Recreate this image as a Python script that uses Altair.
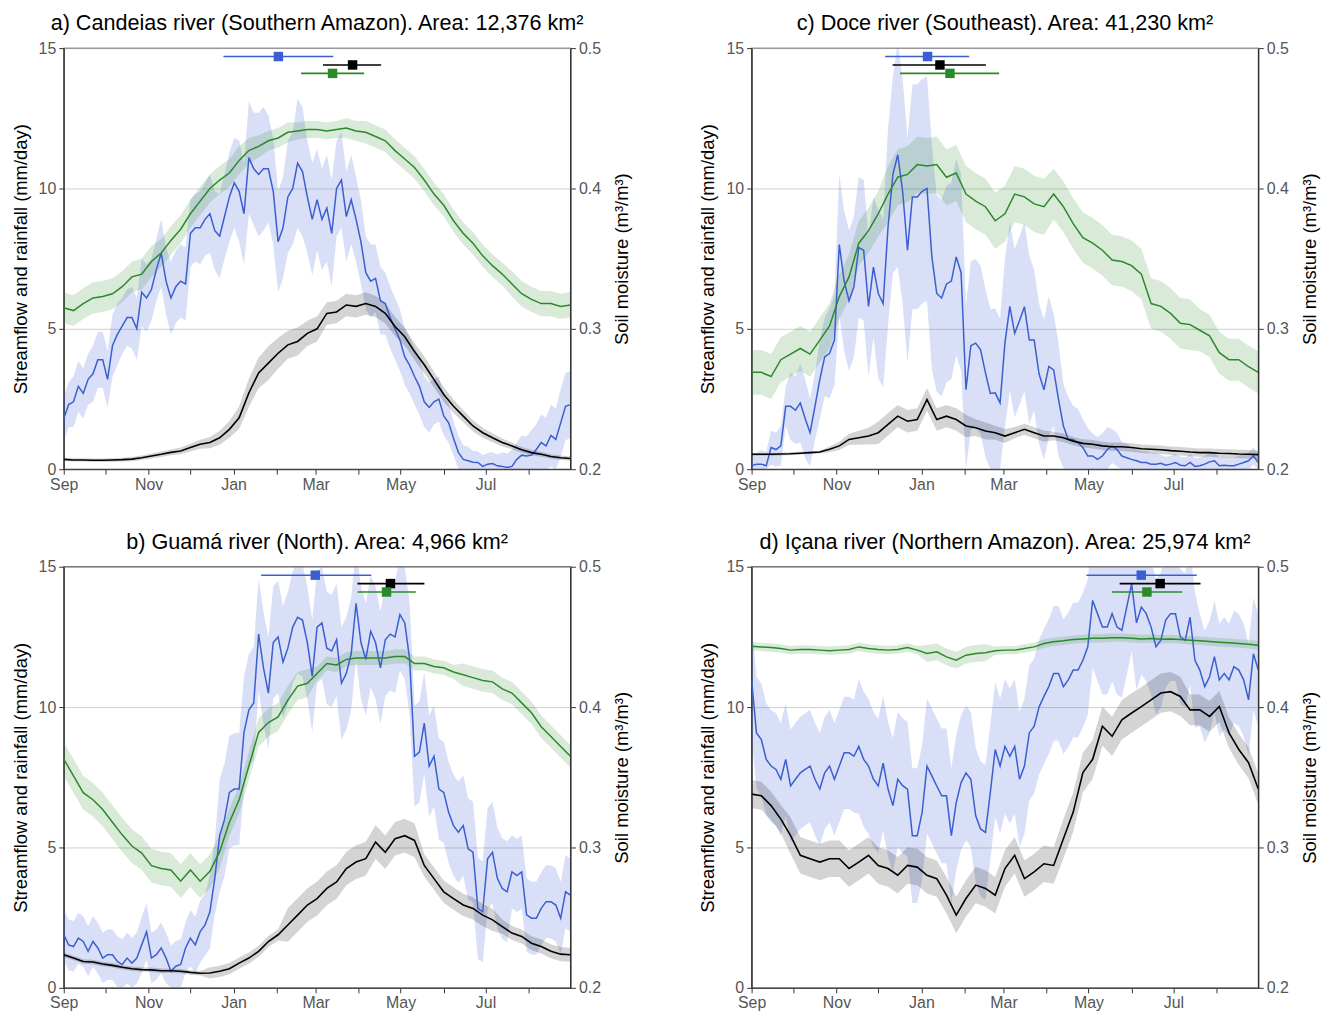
import altair as alt
import pandas as pd
import numpy as np

# ---------------- data (day 0 = 1 Sep) ----------------
START = pd.Timestamp("2001-09-01")
DAYS = list(range(0, 365, 7))            # 53 weekly points
DAYS_MID = [d + 3.5 for d in DAYS[:-1]]  # 52 mid-week points (rainfall only)

SERIES = ["rain", "flow", "soil"]
ERR_Y = [14.7, 14.4, 14.1]

# a) Candeias
A_RAIN = [1.8, 2.4, 2.7, 3.4, 3.9, 4.4, 5.1, 5.4, 6.3, 6.4,
          7.7, 6.1, 6.7, 8.4, 8.6, 9.1, 8.3, 9.7, 9.9, 11.1,
          10.5, 10.7, 8.1, 9.7, 10.9, 9.7, 9.6, 9.3, 10.0, 9.0,
          8.9, 7.0, 6.8, 5.9, 5.0, 4.0, 3.3, 2.4, 2.4, 1.9,
          1.1, 0.35, 0.25, 0.1, 0.2, 0.1, 0.1, 0.5, 0.5, 0.95,
          1.2, 1.65, 2.3]
A_RAIN_MID = [2.3, 2.95, 3.2, 3.9, 3.2, 4.8, 5.4, 5.0, 6.1, 7.1,
              6.7, 6.5, 6.6, 8.6, 8.9, 8.5, 9.0, 10.2, 9.1, 10.7,
              10.7, 9.9, 8.6, 10.0, 10.6, 8.9, 8.9, 8.4, 10.3, 9.6,
              8.1, 6.7, 6.0, 5.4, 4.6, 3.7, 2.95, 2.2, 2.5, 1.65,
              0.6, 0.3, 0.24, 0.18, 0.12, 0.06, 0.35, 0.47, 0.7, 0.83,
              1.06, 2.24]
A_RAIN_HW = [0.8, 0.9, 0.9, 1.0, 1.0, 1.1, 1.0, 1.1, 1.2, 1.1,
             1.2, 1.3, 1.3, 1.2, 1.3, 1.4, 1.5, 1.6, 1.8, 2.0,
             2.2, 1.9, 1.8, 2.0, 2.3, 2.0, 1.8, 1.9, 1.7, 1.6,
             1.5, 1.3, 1.2, 1.1, 1.1, 1.0, 1.0, 0.9, 0.8, 0.7,
             0.6, 0.5, 0.4, 0.4, 0.4, 0.5, 0.6, 0.7, 0.9, 1.0,
             1.1, 1.2, 1.2]
A_FLOW = [0.35, 0.33, 0.33, 0.32, 0.32, 0.33, 0.34, 0.36, 0.41, 0.47,
          0.53, 0.6, 0.65, 0.77, 0.89, 0.95, 1.12, 1.42, 1.83, 2.72,
          3.43, 3.78, 4.13, 4.43, 4.55, 4.84, 5.0, 5.55, 5.6, 5.85,
          5.8, 5.9, 5.8, 5.55, 5.08, 4.72, 4.19, 3.72, 3.19, 2.66,
          2.24, 1.89, 1.54, 1.3, 1.12, 0.95, 0.83, 0.69, 0.59, 0.53,
          0.45, 0.41, 0.38]
A_FLOW_HW = [0.06, 0.06, 0.06, 0.06, 0.06, 0.07, 0.07, 0.08, 0.08, 0.09,
             0.1, 0.1, 0.12, 0.14, 0.16, 0.2, 0.25, 0.3, 0.4, 0.5,
             0.55, 0.6, 0.55, 0.5, 0.5, 0.45, 0.45, 0.4, 0.4, 0.4,
             0.4, 0.4, 0.38, 0.36, 0.34, 0.32, 0.3, 0.3, 0.28, 0.26,
             0.24, 0.22, 0.2, 0.18, 0.16, 0.14, 0.12, 0.1, 0.1, 0.09,
             0.08, 0.08, 0.08]
A_SOIL = [0.315, 0.313, 0.318, 0.322, 0.323, 0.325, 0.330, 0.337, 0.339, 0.348,
          0.354, 0.363, 0.371, 0.382, 0.391, 0.400, 0.406, 0.411, 0.420, 0.427,
          0.430, 0.434, 0.436, 0.440, 0.441, 0.442, 0.442, 0.441, 0.442, 0.443,
          0.441, 0.440, 0.437, 0.434, 0.427, 0.421, 0.415, 0.406, 0.396, 0.388,
          0.377, 0.368, 0.361, 0.352, 0.345, 0.339, 0.332, 0.325, 0.321, 0.318,
          0.318, 0.316, 0.317]
A_SOIL_HW = [0.011, 0.011, 0.011, 0.011, 0.011, 0.011, 0.011, 0.011, 0.011, 0.011,
             0.010, 0.010, 0.010, 0.010, 0.010, 0.010, 0.010, 0.010, 0.010, 0.009,
             0.008, 0.007, 0.007, 0.007, 0.006, 0.006, 0.006, 0.006, 0.006, 0.007,
             0.007, 0.008, 0.008, 0.008, 0.008, 0.008, 0.008, 0.008, 0.008, 0.008,
             0.008, 0.008, 0.008, 0.008, 0.008, 0.008, 0.009, 0.009, 0.009, 0.009,
             0.009, 0.009, 0.009]
ERR_A = ([114.7, 186.2, 170.5], [154.2, 207.5, 193.1], [193.6, 228.0, 215.8])

# c) Doce
C_RAIN = [0.12, 0.18, 0.77, 0.83, 2.24, 2.36, 1.3, 3.19, 4.13, 8.0,
          6.0, 7.9, 5.8, 6.26, 8.62, 11.2, 7.8, 9.7, 10.0, 6.26,
          6.6, 7.56, 2.83, 4.49, 3.43, 2.72, 4.5, 4.84, 5.79, 4.6,
          2.83, 3.54, 1.54, 1.06, 0.77, 0.47, 0.47, 0.83, 0.47, 0.35,
          0.24, 0.18, 0.21, 0.18, 0.14, 0.24, 0.12, 0.26, 0.12, 0.12,
          0.18, 0.3, 0.24]
C_RAIN_MID = [0.18, 0.12, 0.7, 2.24, 2.1, 1.8, 2.24, 4.0, 4.6, 6.7,
              6.5, 7.8, 7.2, 5.9, 10.5, 9.9, 9.7, 9.9, 7.56, 6.1,
              6.7, 7.0, 4.4, 4.25, 2.7, 2.36, 5.8, 5.3, 4.6, 3.4,
              3.66, 2.48, 1.06, 0.94, 0.47, 0.35, 0.7, 0.7, 0.41, 0.3,
              0.24, 0.18, 0.14, 0.24, 0.12, 0.1, 0.18, 0.3, 0.14, 0.12,
              0.24, 0.47]
C_RAIN_HW = [0.4, 0.5, 0.6, 0.7, 1.2, 1.4, 1.2, 1.4, 1.6, 2.5,
             2.5, 2.5, 2.5, 3.0, 3.5, 4.0, 4.0, 4.0, 4.0, 3.5,
             3.5, 3.5, 3.0, 3.0, 3.0, 3.0, 3.0, 3.0, 3.0, 2.5,
             2.5, 2.0, 1.5, 1.2, 1.0, 0.8, 0.8, 0.6, 0.5, 0.4,
             0.4, 0.4, 0.3, 0.3, 0.3, 0.3, 0.3, 0.3, 0.3, 0.3,
             0.3, 0.3, 0.3]
C_FLOW = [0.53, 0.53, 0.53, 0.54, 0.55, 0.57, 0.59, 0.61, 0.71, 0.83,
          1.06, 1.12, 1.18, 1.3, 1.6, 1.89, 1.71, 1.77, 2.48, 1.77,
          1.89, 1.77, 1.54, 1.48, 1.36, 1.3, 1.18, 1.3, 1.42, 1.3,
          1.18, 1.18, 1.12, 1.0, 0.92, 0.89, 0.83, 0.8, 0.8, 0.77,
          0.73, 0.71, 0.69, 0.66, 0.64, 0.61, 0.59, 0.59, 0.57, 0.56,
          0.54, 0.53, 0.52]
C_FLOW_HW = [0.05, 0.05, 0.05, 0.05, 0.05, 0.05, 0.05, 0.05, 0.1, 0.15,
             0.2, 0.25, 0.3, 0.4, 0.4, 0.4, 0.4, 0.4, 0.4, 0.4,
             0.4, 0.4, 0.4, 0.3, 0.3, 0.25, 0.25, 0.2, 0.2, 0.2,
             0.2, 0.15, 0.15, 0.15, 0.15, 0.15, 0.15, 0.15, 0.15, 0.15,
             0.15, 0.15, 0.15, 0.15, 0.15, 0.15, 0.15, 0.15, 0.15, 0.15,
             0.15, 0.15, 0.15]
C_SOIL = [0.269, 0.269, 0.266, 0.278, 0.282, 0.286, 0.282, 0.292, 0.302, 0.323,
          0.337, 0.361, 0.370, 0.382, 0.396, 0.408, 0.410, 0.417, 0.416, 0.417,
          0.408, 0.411, 0.396, 0.391, 0.387, 0.377, 0.382, 0.396, 0.394, 0.389,
          0.387, 0.396, 0.387, 0.375, 0.365, 0.361, 0.356, 0.349, 0.348, 0.345,
          0.339, 0.318, 0.316, 0.311, 0.304, 0.303, 0.299, 0.295, 0.283, 0.278,
          0.278, 0.273, 0.269]
C_SOIL_HW = [0.016, 0.016, 0.016, 0.016, 0.016, 0.016, 0.016, 0.016, 0.016, 0.016,
             0.016, 0.016, 0.016, 0.016, 0.020, 0.020, 0.020, 0.020, 0.020, 0.020,
             0.020, 0.020, 0.020, 0.020, 0.020, 0.020, 0.020, 0.020, 0.020, 0.020,
             0.020, 0.018, 0.018, 0.018, 0.018, 0.018, 0.018, 0.018, 0.018, 0.018,
             0.018, 0.018, 0.018, 0.018, 0.018, 0.018, 0.015, 0.015, 0.015, 0.015,
             0.015, 0.015, 0.015]
ERR_C = ([95.9, 101.3, 106.6], [126.4, 135.3, 142.5], [156.3, 168.3, 177.8])

# b) Guama
B_RAIN = [1.9, 1.47, 1.65, 1.65, 1.06, 1.18, 0.83, 0.88, 1.53, 1.06,
          1.42, 0.59, 0.83, 1.77, 2.0, 2.71, 5.42, 6.96, 7.08, 9.9,
          12.6, 10.5, 12.5, 12.1, 13.2, 12.3, 12.85, 12.1, 12.4, 11.2,
          13.7, 11.7, 12.3, 12.4, 12.5, 13.0, 8.25, 9.43, 8.25, 6.96,
          5.78, 5.78, 4.83, 2.71, 4.83, 3.54, 4.13, 4.13, 2.48, 2.83,
          3.07, 2.48, 3.3]
B_RAIN_MID = [1.53, 1.77, 1.3, 1.42, 1.18, 0.94, 1.06, 1.06, 2.0, 1.18,
              1.06, 0.77, 1.42, 1.53, 2.24, 3.9, 6.0, 7.08, 9.1, 10.15,
              11.4, 12.3, 11.6, 12.85, 13.1, 11.1, 13.0, 12.0, 10.85, 11.9,
              12.3, 12.7, 11.4, 12.6, 13.3, 11.7, 8.4, 7.9, 7.08, 6.25,
              5.54, 4.95, 2.83, 4.6, 3.9, 3.42, 4.0, 2.6, 2.48, 3.07,
              2.95, 3.42]
B_RAIN_HW = [0.9, 0.9, 0.9, 0.9, 0.9, 0.9, 0.9, 0.9, 1.0, 0.9,
             0.9, 0.9, 0.9, 1.0, 1.1, 1.3, 2.0, 2.0, 2.0, 2.0,
             2.0, 2.0, 2.0, 2.0, 2.0, 2.0, 2.0, 2.0, 2.0, 2.0,
             2.0, 2.0, 2.0, 2.0, 2.0, 2.0, 1.8, 1.8, 1.8, 1.8,
             1.8, 1.8, 1.8, 1.8, 1.8, 1.8, 1.3, 1.3, 1.3, 1.3,
             1.3, 1.3, 1.3]
B_FLOW = [1.18, 1.06, 0.94, 0.92, 0.85, 0.8, 0.73, 0.68, 0.65, 0.64,
          0.61, 0.61, 0.59, 0.55, 0.52, 0.53, 0.59, 0.68, 0.88, 1.06,
          1.3, 1.65, 1.89, 2.24, 2.59, 2.95, 3.18, 3.54, 3.77, 4.25,
          4.48, 4.6, 5.19, 4.83, 5.31, 5.42, 5.25, 4.36, 3.89, 3.42,
          3.18, 2.95, 2.83, 2.59, 2.42, 2.18, 1.95, 1.83, 1.59, 1.47,
          1.3, 1.2, 1.18]
B_FLOW_HW = [0.08, 0.08, 0.08, 0.08, 0.08, 0.08, 0.08, 0.08, 0.08, 0.08,
             0.08, 0.08, 0.08, 0.08, 0.08, 0.2, 0.2, 0.2, 0.2, 0.2,
             0.2, 0.2, 0.2, 0.6, 0.6, 0.6, 0.6, 0.6, 0.6, 0.6,
             0.6, 0.6, 0.6, 0.6, 0.6, 0.6, 0.6, 0.4, 0.4, 0.4,
             0.4, 0.4, 0.4, 0.4, 0.4, 0.25, 0.25, 0.25, 0.25, 0.25,
             0.25, 0.25, 0.25]
B_SOIL = [0.363, 0.351, 0.339, 0.334, 0.327, 0.318, 0.309, 0.301, 0.296, 0.287,
          0.285, 0.284, 0.276, 0.284, 0.276, 0.283, 0.297, 0.318, 0.334, 0.358,
          0.382, 0.389, 0.393, 0.405, 0.415, 0.417, 0.424, 0.431, 0.430, 0.434,
          0.435, 0.435, 0.435, 0.435, 0.436, 0.436, 0.431, 0.431, 0.429, 0.428,
          0.425, 0.423, 0.421, 0.419, 0.418, 0.413, 0.410, 0.403, 0.396, 0.386,
          0.379, 0.372, 0.365]
B_SOIL_HW = [0.012, 0.012, 0.012, 0.012, 0.012, 0.012, 0.012, 0.012, 0.012, 0.012,
             0.012, 0.012, 0.012, 0.012, 0.012, 0.012, 0.012, 0.010, 0.010, 0.010,
             0.010, 0.010, 0.010, 0.010, 0.010, 0.010, 0.005, 0.005, 0.005, 0.005,
             0.005, 0.005, 0.005, 0.005, 0.005, 0.005, 0.005, 0.005, 0.005, 0.005,
             0.005, 0.008, 0.008, 0.008, 0.008, 0.008, 0.008, 0.008, 0.008, 0.008,
             0.008, 0.008, 0.008]
ERR_B = ([141.8, 211.0, 211.0], [180.7, 234.7, 231.9], [220.9, 259.1, 252.9])

# d) Icana
D_RAIN = [10.97, 8.84, 7.9, 7.43, 7.19, 7.66, 7.9, 7.08, 7.9, 7.9,
          8.37, 8.6, 7.9, 7.19, 7.08, 7.43, 7.08, 5.42, 7.9, 7.19,
          6.84, 6.6, 7.66, 6.13, 5.54, 8.49, 8.6, 8.6, 7.9, 9.32,
          10.38, 11.2, 10.73, 11.32, 11.67, 13.8, 12.85, 13.33, 12.74, 14.39,
          13.56, 12.85, 12.38, 13.33, 12.5, 13.2, 11.32, 11.08, 10.97, 10.97,
          11.32, 10.26, 11.32]
D_RAIN_MID = [9.08, 8.14, 7.78, 8.14, 7.43, 7.78, 7.43, 7.66, 7.43, 8.37,
              8.25, 8.14, 7.43, 8.0, 6.49, 7.2, 5.42, 6.25, 7.55, 6.84,
              5.42, 7.31, 7.43, 5.66, 6.96, 7.9, 8.25, 7.43, 9.08, 10.0,
              10.73, 11.2, 10.97, 11.32, 12.15, 13.33, 12.85, 12.85, 13.56, 13.0,
              13.33, 12.15, 13.1, 13.33, 12.38, 11.67, 10.73, 11.8, 11.2, 11.44,
              10.97, 11.9]
D_RAIN_HW = [2.0, 2.0, 2.0, 2.0, 2.0, 2.0, 2.0, 2.0, 2.0, 2.0,
             2.0, 2.4, 2.4, 2.4, 2.4, 2.4, 2.4, 2.4, 2.4, 2.4,
             2.4, 2.4, 2.4, 2.4, 2.4, 2.4, 2.4, 2.4, 2.4, 2.4,
             2.4, 2.4, 2.4, 2.4, 2.4, 2.4, 2.4, 2.4, 2.4, 2.4,
             2.4, 2.4, 2.4, 2.4, 2.4, 2.4, 2.0, 2.0, 2.0, 2.0,
             2.0, 2.0, 2.0]
D_FLOW = [6.9, 6.84, 6.49, 6.01, 5.42, 4.72, 4.6, 4.48, 4.6, 4.6,
          4.25, 4.48, 4.72, 4.36, 4.25, 4.01, 4.36, 4.3, 4.01, 3.89,
          3.3, 2.59, 3.18, 3.66, 3.54, 3.3, 4.25, 4.72, 3.89, 4.13,
          4.42, 4.36, 5.31, 6.25, 7.67, 8.14, 9.32, 8.96, 9.55, 9.79,
          10.02, 10.26, 10.5, 10.55, 10.38, 9.9, 9.9, 9.67, 10.02, 9.08,
          8.49, 8.02, 7.08]
D_FLOW_HW = [0.5, 0.5, 0.5, 0.5, 0.65, 0.65, 0.65, 0.65, 0.65, 0.65,
             0.65, 0.65, 0.65, 0.65, 0.65, 0.65, 0.65, 0.65, 0.65, 0.65,
             0.65, 0.65, 0.65, 0.65, 0.65, 0.65, 0.65, 0.65, 0.65, 0.65,
             0.65, 0.65, 0.7, 0.7, 0.7, 0.7, 0.7, 0.7, 0.7, 0.7,
             0.7, 0.7, 0.7, 0.7, 0.7, 0.55, 0.55, 0.55, 0.55, 0.55,
             0.55, 0.55, 0.55]
D_SOIL = [0.4434, 0.4429, 0.4425, 0.4417, 0.4406, 0.441, 0.441, 0.4406, 0.4401, 0.4406,
          0.441, 0.4429, 0.4417, 0.441, 0.4406, 0.441, 0.4425, 0.4406, 0.4382, 0.4394,
          0.4358, 0.4335, 0.437, 0.4382, 0.4387, 0.4401, 0.4406, 0.4406, 0.4417, 0.4429,
          0.4453, 0.4465, 0.4472, 0.4481, 0.4486, 0.4491, 0.4491, 0.4495, 0.4495, 0.4491,
          0.4486, 0.4488, 0.4483, 0.4486, 0.4481, 0.4476, 0.4472, 0.4467, 0.4462, 0.4458,
          0.4453, 0.4448, 0.4441]
D_SOIL_HW = [0.003, 0.003, 0.003, 0.003, 0.003, 0.003, 0.003, 0.003, 0.003, 0.003,
             0.003, 0.003, 0.003, 0.003, 0.003, 0.003, 0.003, 0.003, 0.006, 0.006,
             0.006, 0.006, 0.006, 0.006, 0.006, 0.003, 0.003, 0.003, 0.003, 0.003,
             0.003, 0.003, 0.003, 0.003, 0.003, 0.003, 0.003, 0.003, 0.003, 0.003,
             0.003, 0.003, 0.003, 0.003, 0.003, 0.003, 0.003, 0.003, 0.003, 0.003,
             0.003, 0.003, 0.003]
ERR_D = ([240.5, 264.4, 258.8], [279.9, 293.5, 284.0], [319.8, 322.5, 309.3])

# ---------------- styling ----------------
BLUE = "#3b5fd1"
GREEN = "#2a8a2a"
BLACK = "#000000"
FONT = "Liberation Sans"
W, H = 509, 423

X_DOMAIN = [alt.DateTime(year=2001, month=9, date=1), alt.DateTime(year=2002, month=8, date=31)]


def to_date(d):
    return (START + pd.to_timedelta(d, unit="D")).strftime("%Y-%m-%dT%H:%M:%S")


def xenc(field):
    return alt.X(
        f"{field}:T",
        title=None,
        scale=alt.Scale(domain=X_DOMAIN, nice=False),
        axis=alt.Axis(
            tickCount={"interval": "month", "step": 1},
            labelExpr="month(datum.value) % 2 == 0 ? timeFormat(datum.value, '%b') : ''",
            labelFlush=False,
            grid=False,
            labelPadding=2,
        ),
    )


def left_scale():
    return alt.Scale(domain=[0, 15], nice=False, zero=False)


def right_scale():
    return alt.Scale(domain=[0.2, 0.5], nice=False, zero=False)


def panel(title, rain, rain_mid, rain_hw, flow, flow_hw, soil, soil_hw, err):
    for arr in (rain, rain_hw, flow, flow_hw, soil, soil_hw):
        assert len(arr) == len(DAYS), (title, len(arr))
    assert len(rain_mid) == len(DAYS_MID), (title, len(rain_mid))

    # rainfall on the half-week grid (weekly readings + mid-week readings)
    r_days, r_vals, r_hw = [], [], []
    for i, d in enumerate(DAYS):
        r_days.append(d); r_vals.append(rain[i]); r_hw.append(rain_hw[i])
        if i < len(DAYS_MID):
            r_days.append(DAYS_MID[i]); r_vals.append(rain_mid[i]); r_hw.append(rain_hw[i])
    rv = np.array(r_vals); rh = np.array(r_hw)
    rdf = pd.DataFrame({
        "date": [to_date(d) for d in r_days],
        "rain": rv, "rain_lo": np.maximum(0, rv - rh), "rain_hi": rv + rh,
    })

    f = np.array(flow); fh = np.array(flow_hw)
    s = np.array(soil); sh = np.array(soil_hw)
    df = pd.DataFrame({
        "date": [to_date(d) for d in DAYS],
        "flow": f, "flow_lo": np.maximum(0, f - fh), "flow_hi": f + fh,
        "soil": s, "soil_lo": s - sh, "soil_hi": s + sh,
    })
    lo, mid, hi = err
    edf = pd.DataFrame({
        "series": SERIES,
        "lo": [to_date(d) for d in lo],
        "mid": [to_date(d) for d in mid],
        "hi": [to_date(d) for d in hi],
        "y": ERR_Y,
    })
    color = alt.Color("series:N", scale=alt.Scale(domain=SERIES, range=[BLUE, BLACK, GREEN]), legend=None)

    rbase = alt.Chart(rdf)
    base = alt.Chart(df)
    rain_band = rbase.mark_area(color=BLUE, opacity=0.2, clip=True).encode(
        x=xenc("date"),
        y=alt.Y("rain_lo:Q", scale=left_scale(), title="Streamflow and rainfall (mm/day)",
                axis=alt.Axis(values=[0, 5, 10, 15], grid=True, orient="left", titlePadding=8)),
        y2="rain_hi:Q",
    )
    flow_band = base.mark_area(color=BLACK, opacity=0.17, clip=True).encode(
        x=xenc("date"), y=alt.Y("flow_lo:Q", scale=left_scale(), axis=None), y2="flow_hi:Q")
    soil_band = base.mark_area(color=GREEN, opacity=0.18, clip=True).encode(
        x=xenc("date"),
        y=alt.Y("soil_lo:Q", scale=right_scale(), title="Soil moisture (m³/m³)",
                axis=alt.Axis(values=[0.2, 0.3, 0.4, 0.5], format=".1f", orient="right",
                              grid=False, titlePadding=12, titleAngle=270, titleBaseline="top")),
        y2="soil_hi:Q",
    )
    rain_line = rbase.mark_line(color=BLUE, strokeWidth=1.5, clip=True).encode(
        x=xenc("date"), y=alt.Y("rain:Q", scale=left_scale(), axis=None))
    flow_line = base.mark_line(color=BLACK, strokeWidth=1.6, clip=True).encode(
        x=xenc("date"), y=alt.Y("flow:Q", scale=left_scale(), axis=None))
    soil_line = base.mark_line(color=GREEN, strokeWidth=1.5, clip=True).encode(
        x=xenc("date"), y=alt.Y("soil:Q", scale=right_scale(), axis=None))
    ebase = alt.Chart(edf)
    err_rule = ebase.mark_rule(strokeWidth=1.6).encode(
        x=xenc("lo"), x2="hi:T", y=alt.Y("y:Q", scale=left_scale(), axis=None), color=color)
    err_pt = ebase.mark_square(size=90, opacity=1).encode(
        x=xenc("mid"), y=alt.Y("y:Q", scale=left_scale(), axis=None), color=color)

    return alt.layer(
        rain_band, flow_band, soil_band, rain_line, flow_line, soil_line, err_rule, err_pt
    ).resolve_scale(y="independent").properties(
        width=W, height=H, title=alt.Title(title, frame="group")
    )


pa = panel("a) Candeias river (Southern Amazon). Area: 12,376 km²",
           A_RAIN, A_RAIN_MID, A_RAIN_HW, A_FLOW, A_FLOW_HW, A_SOIL, A_SOIL_HW, ERR_A)
pc = panel("c) Doce river (Southeast). Area: 41,230 km²",
           C_RAIN, C_RAIN_MID, C_RAIN_HW, C_FLOW, C_FLOW_HW, C_SOIL, C_SOIL_HW, ERR_C)
pb = panel("b) Guamá river (North). Area: 4,966 km²",
           B_RAIN, B_RAIN_MID, B_RAIN_HW, B_FLOW, B_FLOW_HW, B_SOIL, B_SOIL_HW, ERR_B)
pd_ = panel("d) Içana river (Northern Amazon). Area: 25,974 km²",
            D_RAIN, D_RAIN_MID, D_RAIN_HW, D_FLOW, D_FLOW_HW, D_SOIL, D_SOIL_HW, ERR_D)

chart = alt.vconcat(
    alt.hconcat(pa, pc, spacing=66),
    alt.hconcat(pb, pd_, spacing=66),
    spacing=38,
).properties(
    padding={"left": 2, "top": 2, "right": 2, "bottom": 2}
).configure_view(
    stroke="#333333", strokeWidth=1.3
).configure_axis(
    labelFont=FONT, titleFont=FONT, labelFontSize=16, titleFontSize=18.5,
    labelColor="#555555", titleColor="#000000", titleFontWeight="normal",
    domainColor="#333333", tickColor="#333333", tickSize=5,
    gridColor="#c4c4c4", gridWidth=0.8, labelPadding=3,
).configure_title(
    font=FONT, fontSize=21.7, fontWeight="normal", color="#000000", anchor="middle", offset=5
)

chart.save("out.html", embed_options={"renderer": "svg", "actions": False})
